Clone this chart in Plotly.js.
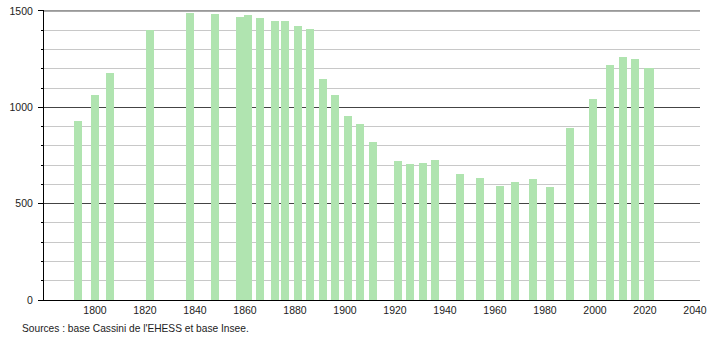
<!DOCTYPE html>
<html>
<head>
<meta charset="utf-8">
<script src="https://cdn.plot.ly/plotly-3.0.1.min.js"></script>
<style>
html,body{margin:0;padding:0;background:#fff;}
#chart{width:710px;height:340px;}
</style>
</head>
<body>
<div id="chart"></div>
<script>
// Census years and population values
const years = [1793, 1800, 1806, 1822, 1838, 1848, 1858, 1861, 1866, 1872, 1876, 1881, 1886, 1891, 1896, 1901, 1906, 1911,
               1921, 1926, 1931, 1936, 1946, 1954, 1962, 1968, 1975, 1982, 1990, 1999, 2006, 2011, 2016, 2021, 2022];
const population = [929, 1064, 1178, 1401, 1490, 1484, 1469, 1479, 1464, 1448, 1446, 1422, 1407, 1147, 1064, 955, 913, 820,
                    721, 706, 711, 727, 654, 633, 592, 612, 628, 586, 893, 1043, 1220, 1261, 1251, 1204, 1204];
const xTickVals = [1800, 1820, 1840, 1860, 1880, 1900, 1920, 1940, 1960, 1980, 2000, 2020, 2040];
const yTickVals = [0, 500, 1000, 1500];
const yTop = 1500;
const sourceText = "Sources : base Cassini de l'EHESS et base Insee.";

const trace = {
  type: 'bar',
  x: years,
  y: population,
  width: 3.2,
  marker: {color: 'rgb(176,228,176)', line: {width: 0}},
  hoverinfo: 'x+y'
};

const layout = {
  width: 710,
  height: 340,
  margin: {l: 44, r: 10, t: 10, b: 40, pad: 0},
  paper_bgcolor: '#ffffff',
  plot_bgcolor: '#ffffff',
  showlegend: false,
  bargap: 0,
  font: {family: 'Liberation Sans, Arial, sans-serif', size: 10, color: '#222'},
  xaxis: {
    range: [1779.6, 2042],
    tickmode: 'array',
    tickvals: xTickVals,
    ticktext: xTickVals.map(String),
    showgrid: false,
    zeroline: false,
    showline: true,
    linecolor: '#000',
    linewidth: 1,
    ticks: '',
    tickfont: {size: 10.5, color: '#222'},
    fixedrange: true
  },
  yaxis: {
    range: [0, 1505],
    tickmode: 'array',
    tickvals: yTickVals,
    ticktext: yTickVals.map(String),
    showgrid: true,
    gridcolor: '#444',
    gridwidth: 1,
    zeroline: false,
    showline: true,
    linecolor: '#000',
    linewidth: 1,
    ticks: 'outside',
    ticklen: 5,
    tickcolor: '#000',
    ticklabelstandoff: 3,
    tickfont: {size: 10.5, color: '#222'},
    minor: {dtick: 100, showgrid: true, gridcolor: '#c8c8c8', gridwidth: 1, ticks: 'outside', ticklen: 2, tickcolor: '#000'},
    fixedrange: true
  },
  shapes: [{
    type: 'line', xref: 'paper', yref: 'y',
    x0: 0, x1: 1, y0: yTop, y1: yTop,
    line: {color: '#444', width: 1},
    layer: 'below'
  }],
  annotations: [{
    text: sourceText,
    xref: 'paper', yref: 'paper',
    x: -0.0366, y: -0.097,
    xanchor: 'left', yanchor: 'middle',
    showarrow: false,
    font: {size: 10.2, color: '#222'}
  }]
};

Plotly.newPlot('chart', [trace], layout, {displayModeBar: false, staticPlot: true});
</script>
</body>
</html>
